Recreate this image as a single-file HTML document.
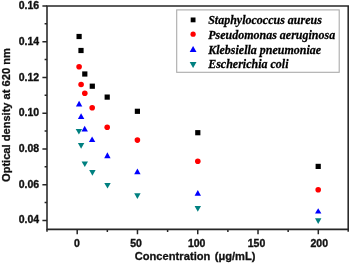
<!DOCTYPE html>
<html><head><meta charset="utf-8"><style>
html,body{margin:0;padding:0;background:#fff;width:350px;height:263px;overflow:hidden}
svg{display:block;will-change:transform}
.tl{font-family:"Liberation Sans",sans-serif;font-weight:bold;font-size:10.5px;fill:#111;stroke:#111;stroke-width:0.35px}
.at{font-family:"Liberation Sans",sans-serif;font-weight:bold;font-size:11.1px;fill:#111;stroke:#111;stroke-width:0.3px}
.lg{font-family:"Liberation Serif",serif;font-weight:bold;font-style:italic;font-size:12px;fill:#000;stroke:#000;stroke-width:0.25px}
</style></head><body>
<svg width="350" height="263" viewBox="0 0 350 263">
<rect x="0" y="0" width="350" height="263" fill="#fff"/>
<path d="M47.0 6.0 H348.2 V229.35 H47.0 Z" fill="none" stroke="#262626" stroke-width="1.55"/>
<path d="M42.4 6.00 H47.0 M42.4 41.73 H47.0 M42.4 77.46 H47.0 M42.4 113.19 H47.0 M42.4 148.92 H47.0 M42.4 184.65 H47.0 M42.4 220.38 H47.0 M44.6 23.86 H47.0 M44.6 59.59 H47.0 M44.6 95.32 H47.0 M44.6 131.06 H47.0 M44.6 166.78 H47.0 M44.6 202.51 H47.0 M77.20 229.35 V234.15 M137.47 229.35 V234.15 M197.75 229.35 V234.15 M258.02 229.35 V234.15 M318.30 229.35 V234.15 M107.34 229.35 V231.95 M167.61 229.35 V231.95 M227.89 229.35 V231.95 M288.16 229.35 V231.95 M47.0 229.35 V231.75 M348.2 229.35 V231.75" fill="none" stroke="#262626" stroke-width="1.5"/>
<text x="39.2" y="9.20" text-anchor="end" class="tl">0.16</text>
<text x="39.2" y="44.89" text-anchor="end" class="tl">0.14</text>
<text x="39.2" y="80.58" text-anchor="end" class="tl">0.12</text>
<text x="39.2" y="116.27" text-anchor="end" class="tl">0.10</text>
<text x="39.2" y="151.96" text-anchor="end" class="tl">0.08</text>
<text x="39.2" y="187.65" text-anchor="end" class="tl">0.06</text>
<text x="39.2" y="223.34" text-anchor="end" class="tl">0.04</text>
<text x="76.80" y="246.9" text-anchor="middle" class="tl">0</text>
<text x="136.07" y="246.9" text-anchor="middle" class="tl">50</text>
<text x="196.65" y="246.9" text-anchor="middle" class="tl">100</text>
<text x="256.52" y="246.9" text-anchor="middle" class="tl">150</text>
<text x="319.30" y="246.9" text-anchor="middle" class="tl">200</text>
<text x="134.7" y="260.3" class="at"><tspan letter-spacing="0.04">Concentration</tspan> <tspan dx="1.2">(μg/mL)</tspan></text>
<text transform="translate(10.3 182.0) rotate(-90)" x="0" y="0" class="at">Optical density at 620 nm</text>
<rect x="76.50" y="33.90" width="5.2" height="5.2" fill="#000"/>
<rect x="78.40" y="47.90" width="5.2" height="5.2" fill="#000"/>
<rect x="82.20" y="71.40" width="5.2" height="5.2" fill="#000"/>
<rect x="89.70" y="83.60" width="5.2" height="5.2" fill="#000"/>
<rect x="104.60" y="94.50" width="5.2" height="5.2" fill="#000"/>
<rect x="134.80" y="108.70" width="5.2" height="5.2" fill="#000"/>
<rect x="195.20" y="130.10" width="5.2" height="5.2" fill="#000"/>
<rect x="315.60" y="163.80" width="5.2" height="5.2" fill="#000"/>
<circle cx="79.1" cy="66.8" r="2.8" fill="#f00"/>
<circle cx="81.1" cy="84.5" r="2.8" fill="#f00"/>
<circle cx="84.8" cy="93.3" r="2.8" fill="#f00"/>
<circle cx="92.2" cy="107.8" r="2.8" fill="#f00"/>
<circle cx="107.2" cy="127.3" r="2.8" fill="#f00"/>
<circle cx="137.4" cy="140.1" r="2.8" fill="#f00"/>
<circle cx="197.8" cy="161.3" r="2.8" fill="#f00"/>
<circle cx="318.2" cy="189.8" r="2.8" fill="#f00"/>
<path d="M75.70 128.90 H82.10 L78.90 134.60 Z" fill="#008080"/>
<path d="M77.90 143.10 H84.30 L81.10 148.80 Z" fill="#008080"/>
<path d="M81.60 161.40 H88.00 L84.80 167.10 Z" fill="#008080"/>
<path d="M89.20 170.00 H95.60 L92.40 175.70 Z" fill="#008080"/>
<path d="M104.30 182.90 H110.70 L107.50 188.60 Z" fill="#008080"/>
<path d="M134.20 193.30 H140.60 L137.40 199.00 Z" fill="#008080"/>
<path d="M194.60 206.00 H201.00 L197.80 211.70 Z" fill="#008080"/>
<path d="M315.00 218.30 H321.40 L318.20 224.00 Z" fill="#008080"/>
<path d="M75.90 106.40 H82.30 L79.10 100.70 Z" fill="#00f"/>
<path d="M77.90 118.90 H84.30 L81.10 113.20 Z" fill="#00f"/>
<path d="M81.50 131.40 H87.90 L84.70 125.70 Z" fill="#00f"/>
<path d="M88.90 142.00 H95.30 L92.10 136.50 Z" fill="#00f"/>
<path d="M104.20 158.20 H110.60 L107.40 152.30 Z" fill="#00f"/>
<path d="M134.20 174.20 H140.60 L137.40 168.50 Z" fill="#00f"/>
<path d="M194.60 195.80 H201.00 L197.80 190.10 Z" fill="#00f"/>
<path d="M315.00 213.60 H321.40 L318.20 208.30 Z" fill="#00f"/>
<rect x="176.7" y="9.9" width="162.5" height="62.4" fill="#fff" stroke="#ababab" stroke-width="1.1"/>
<rect x="190.7" y="17.5" width="4.8" height="4.8" fill="#000"/>
<circle cx="193.1" cy="34.2" r="2.6" fill="#f00"/>
<path d="M189.7 51.9 H196.5 L193.1 46.0 Z" fill="#00f"/>
<path d="M189.7 62.0 H196.5 L193.1 67.9 Z" fill="#008080"/>
<text transform="translate(208.2 23.7) scale(1 1.1)" class="lg">Staphylococcus aureus</text>
<text transform="translate(208.2 38.6) scale(1 1.1)" class="lg">Pseudomonas aeruginosa</text>
<text transform="translate(208.2 53.6) scale(1 1.1)" class="lg">Klebsiella pneumoniae</text>
<text transform="translate(208.2 67.9) scale(1 1.1)" class="lg">Escherichia coli</text>
</svg>
</body></html>
